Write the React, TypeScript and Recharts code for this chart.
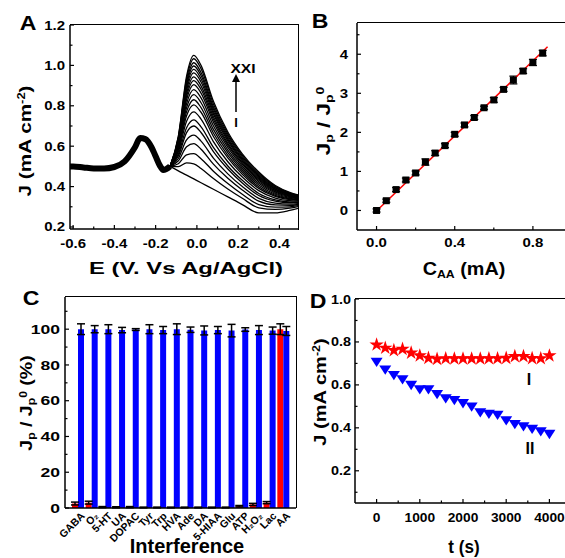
import type { ReactNode } from 'react'
import {
  Bar,
  BarChart,
  ComposedChart,
  ErrorBar,
  Line,
  LineChart,
  Scatter,
  ScatterChart,
  XAxis,
  YAxis,
  ZAxis,
} from 'recharts'

const FONT = '"Liberation Sans", Arial, Helvetica, sans-serif'
const BLUE = '#0000ff'
const RED = '#ff0000'

// ---- A: CV curves (I ... XXI) ----
// shared part before the AA peak, drawn thick since all 21 scans overlap there
const BASE_E = [-0.62, -0.6, -0.55, -0.5, -0.45, -0.4, -0.35, -0.3, -0.275, -0.25, -0.22, -0.2, -0.18, -0.163, -0.13]
const BASE_J = [0.5, 0.5, 0.495, 0.49, 0.49, 0.497, 0.525, 0.595, 0.64, 0.635, 0.595, 0.55, 0.505, 0.482, 0.5]
const PEAK_E = [-0.13, -0.09, -0.05, -0.015, 0.02, 0.08, 0.15, 0.22, 0.3, 0.38, 0.45, 0.5]
const CV_CURVES = [
  [0.5, 0.478, 0.457, 0.438, 0.419, 0.387, 0.349, 0.311, 0.27, 0.27, 0.282, 0.295],
  [0.5, 0.499, 0.517, 0.513, 0.49, 0.44, 0.388, 0.342, 0.295, 0.287, 0.293, 0.303],
  [0.5, 0.513, 0.557, 0.563, 0.538, 0.476, 0.415, 0.362, 0.311, 0.298, 0.3, 0.308],
  [0.5, 0.527, 0.597, 0.613, 0.585, 0.511, 0.441, 0.383, 0.328, 0.309, 0.307, 0.313],
  [0.5, 0.539, 0.631, 0.655, 0.625, 0.541, 0.463, 0.4, 0.342, 0.318, 0.313, 0.317],
  [0.5, 0.551, 0.667, 0.7, 0.668, 0.573, 0.487, 0.418, 0.356, 0.328, 0.32, 0.321],
  [0.5, 0.56, 0.691, 0.73, 0.696, 0.594, 0.502, 0.431, 0.366, 0.334, 0.324, 0.324],
  [0.5, 0.571, 0.723, 0.77, 0.734, 0.623, 0.523, 0.447, 0.38, 0.343, 0.33, 0.328],
  [0.5, 0.581, 0.751, 0.805, 0.768, 0.648, 0.542, 0.461, 0.391, 0.351, 0.335, 0.332],
  [0.5, 0.588, 0.771, 0.83, 0.791, 0.665, 0.555, 0.472, 0.399, 0.356, 0.339, 0.334],
  [0.5, 0.595, 0.791, 0.855, 0.815, 0.683, 0.568, 0.482, 0.408, 0.362, 0.342, 0.337],
  [0.5, 0.602, 0.811, 0.88, 0.839, 0.701, 0.581, 0.492, 0.416, 0.367, 0.346, 0.339],
  [0.5, 0.609, 0.831, 0.905, 0.863, 0.719, 0.594, 0.502, 0.424, 0.373, 0.35, 0.342],
  [0.5, 0.614, 0.847, 0.925, 0.882, 0.733, 0.605, 0.511, 0.431, 0.377, 0.353, 0.344],
  [0.5, 0.619, 0.861, 0.943, 0.899, 0.746, 0.614, 0.518, 0.437, 0.381, 0.355, 0.346],
  [0.5, 0.625, 0.877, 0.963, 0.918, 0.76, 0.625, 0.526, 0.443, 0.386, 0.358, 0.348],
  [0.5, 0.63, 0.891, 0.98, 0.934, 0.772, 0.634, 0.533, 0.449, 0.389, 0.361, 0.349],
  [0.5, 0.635, 0.904, 0.997, 0.95, 0.784, 0.642, 0.54, 0.454, 0.393, 0.363, 0.351],
  [0.5, 0.639, 0.917, 1.013, 0.965, 0.795, 0.651, 0.547, 0.46, 0.397, 0.365, 0.353],
  [0.5, 0.645, 0.933, 1.033, 0.984, 0.809, 0.661, 0.555, 0.466, 0.401, 0.368, 0.355],
  [0.5, 0.649, 0.947, 1.05, 1.0, 0.822, 0.67, 0.562, 0.472, 0.405, 0.371, 0.356],
]
const A_X_MAJOR = [-0.6, -0.4, -0.2, 0, 0.2, 0.4]
const A_X_MINOR = [-0.5, -0.3, -0.1, 0.1, 0.3]
const A_Y_MAJOR = [0.2, 0.4, 0.6, 0.8, 1.0, 1.2]
const A_Y_MINOR = [0.3, 0.5, 0.7, 0.9, 1.1]

// ---- B: calibration ----
const CAA = [0, 0.05, 0.1, 0.15, 0.2, 0.25, 0.3, 0.35, 0.4, 0.45, 0.5, 0.55, 0.6, 0.65, 0.7, 0.75, 0.8, 0.85]
const RATIO = [0, 0.25, 0.535, 0.78, 0.96, 1.24, 1.47, 1.66, 1.95, 2.19, 2.38, 2.63, 2.83, 3.1, 3.34, 3.57, 3.79, 4.03]
const RATIO_ERR = [0.04, 0.04, 0.05, 0.05, 0.05, 0.08, 0.06, 0.05, 0.05, 0.05, 0.05, 0.04, 0.06, 0.05, 0.1, 0.06, 0.08, 0.07]
const FIT_X = [-0.01, 0.875]
const FIT_Y = [-0.06, 4.19]
const B_X_MAJOR = [0, 0.4, 0.8]
const B_X_MINOR = [0.2, 0.6]
const B_Y_MAJOR = [0, 1, 2, 3, 4]
const B_Y_MINOR = [0.5, 1.5, 2.5, 3.5, 4.5]

// ---- C: interference ----
const INTERFERENTS = ['GABA', 'O₂', '5-HT', 'UA', 'DOPAC', 'Tyr', 'Trp', 'HVA', 'Ade', 'DA', '5-HIAA', 'Glu', 'ATP', 'H₂O₂', 'Lac', 'AA']
const ALONE = [2.5, 3, 0.5, 0.4, 0.5, 0.3, 0.3, 0.3, 0.3, 0.3, 0.3, 0.3, 1, 2, 3, 100]
const ALONE_ERR = [0.8, 0.8, 0.3, 0.3, 0.3, 0.2, 0.2, 0.2, 0.2, 0.2, 0.2, 0.2, 0.4, 0.6, 0.6, 3]
const WITH_AA = [100, 100, 100, 99.5, 99.8, 100, 99.5, 100, 99.7, 99.3, 99.5, 99.2, 99.8, 99.5, 99.2, 99]
const WITH_AA_ERR = [3, 2, 2.5, 1.5, 0.5, 2.5, 2, 3, 1.5, 2.5, 2, 3.5, 1, 2.5, 2, 2.5]
const C_Y_MAJOR = [0, 20, 40, 60, 80, 100]
const C_Y_MINOR = [10, 30, 50, 70, 90, 110]

// ---- D: stability ----
const TIME = [0, 200, 400, 600, 800, 1000, 1200, 1400, 1600, 1800, 2000, 2200, 2400, 2600, 2800, 3000, 3200, 3400, 3600, 3800, 4000]
const J_I = [0.787, 0.772, 0.761, 0.767, 0.749, 0.736, 0.725, 0.72, 0.723, 0.722, 0.722, 0.722, 0.722, 0.723, 0.723, 0.725, 0.733, 0.733, 0.724, 0.723, 0.736]
const J_II = [0.71, 0.674, 0.648, 0.628, 0.602, 0.582, 0.582, 0.56, 0.54, 0.532, 0.517, 0.501, 0.475, 0.468, 0.463, 0.437, 0.42, 0.409, 0.398, 0.386, 0.374]
const D_X_MAJOR = [0, 1000, 2000, 3000, 4000]
const D_X_MINOR = [500, 1500, 2500, 3500]
const D_Y_MAJOR = [0.2, 0.4, 0.6, 0.8, 1.0]
const D_Y_MINOR = [0.1, 0.3, 0.5, 0.7, 0.9]

const baseData = BASE_E.map((e, i) => ({ e, j: BASE_J[i] }))
const cvData = CV_CURVES.map((c) => PEAK_E.map((e, i) => ({ e, j: c[i] })))
const calData = CAA.map((x, i) => ({ x, y: RATIO[i], err: RATIO_ERR[i] }))
const fitData = FIT_X.map((x, i) => ({ x, y: FIT_Y[i] }))
const barData = INTERFERENTS.map((name, i) => ({
  name,
  alone: ALONE[i],
  aloneErr: ALONE_ERR[i],
  withAA: WITH_AA[i],
  withAAErr: WITH_AA_ERR[i],
}))
const stabI = TIME.map((t, i) => ({ t, j: J_I[i] }))
const stabII = TIME.map((t, i) => ({ t, j: J_II[i] }))

const axisLine = { stroke: '#000', strokeWidth: 1.5 }

// inward major/minor tick marks, labels only on majors
function axisTick(side: 'left' | 'bottom', gap: number, majors: number[], fmt: (v: number) => string, sx = 1.2, size = 12.5) {
  return (p: any) => {
    const v = p.payload.value
    const major = majors.includes(v)
    const len = major ? 4 : 2.5
    const label = major ? (
      <text
        transform={`translate(${p.x},${p.y}) scale(${sx},1)`}
        textAnchor={side === 'left' ? 'end' : 'middle'}
        dy="0.36em"
        fontSize={size}
        fontWeight="bold"
        fontFamily={FONT}
        fill="#000"
      >
        {fmt(v)}
      </text>
    ) : null
    if (side === 'left') {
      const ax = p.x + gap
      return (
        <g>
          <line x1={ax} x2={ax + len} y1={p.y} y2={p.y} stroke="#000" strokeWidth={1.2} />
          {label}
        </g>
      )
    }
    const ay = p.y - gap
    return (
      <g>
        <line x1={p.x} x2={p.x} y1={ay} y2={ay - len} stroke="#000" strokeWidth={1.2} />
        {label}
      </g>
    )
  }
}

const catTick = (p: any) => (
  <text
    transform={`translate(${p.x + 5},${p.y}) rotate(-45)`}
    textAnchor="end"
    dy="0.35em"
    fontSize={10.5}
    fontWeight="bold"
    fontFamily={FONT}
    fill="#000"
  >
    {p.payload.value}
  </text>
)

const DownTriangle = (p: any) => {
  const { cx, cy } = p
  const r = 6
  return <polygon points={`${cx - r},${cy - r * 0.6} ${cx + r},${cy - r * 0.6} ${cx},${cy + r * 0.95}`} fill={BLUE} />
}

function T({ x, y, size, rot = 0, sx = 1, children }: { x: number; y: number; size: number; rot?: number; sx?: number; children: ReactNode }) {
  return (
    <div
      style={{
        position: 'absolute',
        left: x,
        top: y,
        transform: `translate(-50%,-50%) rotate(${rot}deg) scaleX(${sx})`,
        fontFamily: FONT,
        fontWeight: 'bold',
        fontSize: size,
        lineHeight: 1,
        whiteSpace: 'nowrap',
        color: '#000',
      }}
    >
      {children}
    </div>
  )
}

const sub = (s: string) => <sub style={{ fontSize: '0.62em', verticalAlign: '-0.25em' }}>{s}</sub>
const sup = (s: string) => <sup style={{ fontSize: '0.62em', verticalAlign: '0.55em' }}>{s}</sup>

const f1 = (v: number) => v.toFixed(1)
const f0 = (v: number) => String(v)

function Frame({ left, top, width, height, right = true }: { left: number; top: number; width: number; height: number; right?: boolean }) {
  return (
    <div
      style={{
        position: 'absolute',
        left,
        top,
        width,
        height,
        boxSizing: 'border-box',
        borderTop: '1.5px solid #000',
        borderRight: right ? '1.5px solid #000' : 'none',
        pointerEvents: 'none',
      }}
    />
  )
}

export default function App() {
  return (
    <div style={{ position: 'fixed', left: 0, top: 0, width: 565, height: 558, overflow: 'hidden', background: '#fff' }}>
      {/* A */}
      <div style={{ position: 'absolute', left: 0, top: 0 }}>
        <LineChart width={300} height={280} margin={{ top: 25, right: 2, bottom: 21, left: 0 }}>
          <XAxis
            dataKey="e"
            type="number"
            domain={[-0.615, 0.49]}
            allowDataOverflow
            ticks={[...A_X_MAJOR, ...A_X_MINOR]}
            interval={0}
            height={30}
            axisLine={axisLine}
            tickLine={false}
            tickSize={0}
            tickMargin={14}
            tick={axisTick('bottom', 14, A_X_MAJOR, f1)}
          />
          <YAxis
            dataKey="j"
            type="number"
            domain={[0.19, 1.2]}
            allowDataOverflow
            ticks={[...A_Y_MAJOR, ...A_Y_MINOR]}
            interval={0}
            width={70}
            axisLine={axisLine}
            tickLine={false}
            tickSize={0}
            tickMargin={5}
            tick={axisTick('left', 5, A_Y_MAJOR, f1)}
          />
          <Line data={baseData} dataKey="j" type="monotone" stroke="#000" strokeWidth={6} dot={false} isAnimationActive={false} />
          {cvData.map((d, i) => (
            <Line key={i} data={d} dataKey="j" type="monotone" stroke="#000" strokeWidth={1.3} dot={false} isAnimationActive={false} />
          ))}
        </LineChart>
      </div>
      <Frame left={70} top={24} width={229} height={206} />

      {/* B */}
      <div style={{ position: 'absolute', left: 280, top: 0 }}>
        <ComposedChart width={300} height={280} margin={{ top: 23, right: 8, bottom: 20, left: 0 }}>
          <XAxis
            dataKey="x"
            type="number"
            domain={[-0.1, 1.0]}
            allowDataOverflow
            ticks={[...B_X_MAJOR, ...B_X_MINOR]}
            interval={0}
            height={30}
            axisLine={axisLine}
            tickLine={false}
            tickSize={0}
            tickMargin={12}
            tick={axisTick('bottom', 12, B_X_MAJOR, f1)}
          />
          <YAxis
            dataKey="y"
            type="number"
            domain={[-0.5, 4.8]}
            allowDataOverflow
            ticks={[...B_Y_MAJOR, ...B_Y_MINOR]}
            interval={0}
            width={77}
            axisLine={axisLine}
            tickLine={false}
            tickSize={0}
            tickMargin={9}
            tick={axisTick('left', 9, B_Y_MAJOR, f0)}
          />
          <ZAxis range={[49, 49]} />
          <Scatter data={calData} dataKey="y" shape="square" fill="#000" isAnimationActive={false}>
            <ErrorBar dataKey="err" direction="y" width={4} stroke="#000" strokeWidth={1.2} />
          </Scatter>
          <Line data={fitData} dataKey="y" type="linear" stroke={RED} strokeWidth={1.5} dot={false} isAnimationActive={false} />
        </ComposedChart>
      </div>
      <Frame left={357} top={22} width={220} height={208} right={false} />

      {/* C */}
      <div style={{ position: 'absolute', left: 0, top: 280 }}>
        <BarChart width={300} height={278} data={barData} barSize={6} barGap={0} margin={{ top: 17, right: 4, bottom: 0, left: 0 }}>
          <XAxis
            dataKey="name"
            type="category"
            padding={{ left: 6, right: 6 }}
            interval={0}
            height={50}
            axisLine={axisLine}
            tickLine={false}
            tickSize={0}
            tickMargin={6}
            tick={catTick}
          />
          <YAxis
            type="number"
            domain={[0, 118]}
            allowDataOverflow
            ticks={[...C_Y_MAJOR, ...C_Y_MINOR]}
            interval={0}
            width={65}
            axisLine={axisLine}
            tickLine={false}
            tickSize={0}
            tickMargin={5}
            tick={axisTick('left', 5, C_Y_MAJOR, f0, 1.35, 13)}
          />
          <Bar dataKey="alone" fill={RED} isAnimationActive={false}>
            <ErrorBar dataKey="aloneErr" width={4} stroke="#000" strokeWidth={1.5} />
          </Bar>
          <Bar dataKey="withAA" fill={BLUE} isAnimationActive={false}>
            <ErrorBar dataKey="withAAErr" width={4} stroke="#000" strokeWidth={1.5} />
          </Bar>
        </BarChart>
      </div>
      <Frame left={65} top={296} width={232} height={212} />

      {/* D */}
      <div style={{ position: 'absolute', left: 280, top: 280 }}>
        <ScatterChart width={300} height={278} margin={{ top: 19, right: 9, bottom: 25, left: 0 }}>
          <XAxis
            dataKey="t"
            type="number"
            domain={[-500, 4500]}
            allowDataOverflow
            ticks={[...D_X_MAJOR, ...D_X_MINOR]}
            interval={0}
            height={30}
            axisLine={axisLine}
            tickLine={false}
            tickSize={0}
            tickMargin={14}
            tick={axisTick('bottom', 14, D_X_MAJOR, f0, 1.1)}
          />
          <YAxis
            dataKey="j"
            type="number"
            domain={[0.05, 1.0]}
            allowDataOverflow
            ticks={[...D_Y_MAJOR, ...D_Y_MINOR]}
            interval={0}
            width={75}
            axisLine={axisLine}
            tickLine={false}
            tickSize={0}
            tickMargin={4}
            tick={axisTick('left', 4, D_Y_MAJOR, f1, 1.15)}
          />
          <ZAxis range={[52, 52]} />
          <Scatter data={stabI} shape="star" fill={RED} isAnimationActive={false} />
          <Scatter data={stabII} shape={DownTriangle} fill={BLUE} isAnimationActive={false} />
        </ScatterChart>
      </div>
      <Frame left={355} top={298} width={220} height={206} right={false} />

      {/* panel letters */}
      <T x={28} y={22} size={21} sx={1.1}>A</T>
      <T x={320} y={20} size={21} sx={1.1}>B</T>
      <T x={31} y={297} size={21} sx={1.1}>C</T>
      <T x={318} y={300} size={21} sx={1.1}>D</T>

      {/* A annotations and titles */}
      <T x={243} y={68} size={13} sx={1.2}>XXI</T>
      <svg style={{ position: 'absolute', left: 228, top: 70, overflow: 'visible' }} width={16} height={50}>
        <line x1={8} y1={10} x2={8} y2={42} stroke="#000" strokeWidth={1.5} />
        <polygon points="4,12 12,12 8,4" fill="#000" />
      </svg>
      <T x={236} y={122} size={13}>I</T>
      <T x={186} y={268} size={17} sx={1.4}>E (V. Vs Ag/AgCl)</T>
      <T x={25} y={141} size={17} rot={-90} sx={1.22}>J (mA cm{sup('-2')})</T>

      {/* B titles */}
      <T x={464} y={270} size={18} sx={1.1}>C{sub('AA')} (mA)</T>
      <T x={325} y={121} size={18} rot={-90} sx={1.25}>J{sub('p')} / J{sub('p')}{sup('0')}</T>

      {/* C titles */}
      <T x={27} y={403} size={17} rot={-90} sx={1.15}>J{sub('p')} / J{sub('p')}{sup('0')} (%)</T>
      <T x={187} y={546} size={20}>Interference</T>

      {/* D titles */}
      <T x={320} y={392} size={17} rot={-90} sx={1.18}>J (mA cm{sup('-2')})</T>
      <T x={464} y={547} size={18} sx={0.95}>t (s)</T>
      <T x={529} y={380} size={16}>I</T>
      <T x={530} y={449} size={16}>II</T>
    </div>
  )
}
